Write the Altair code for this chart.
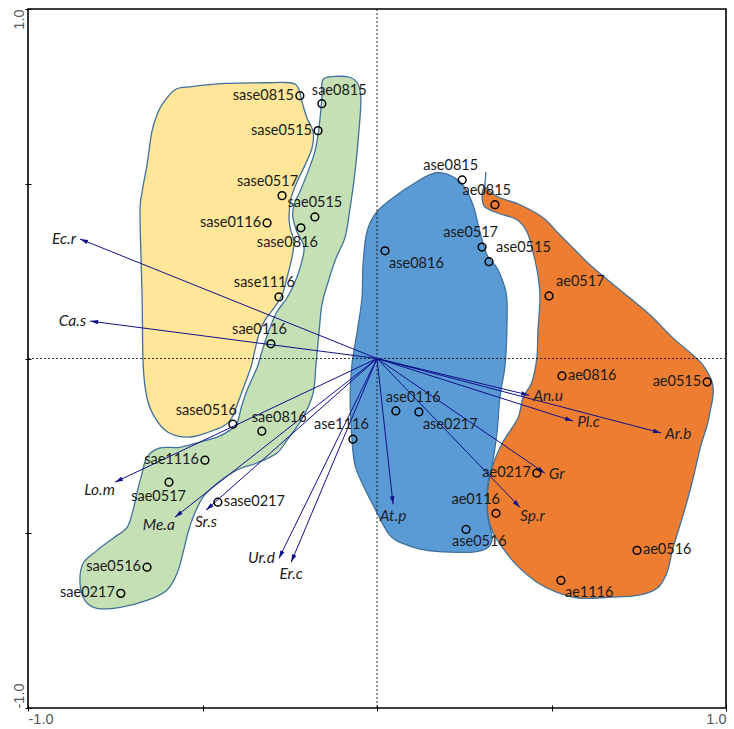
import altair as alt
import numpy as np
import pandas as pd

# ---- sample scores on ordination axes 1 and 2 -------------------------------
sample_names = [
    "sase0815", "sase0515", "sase0517", "sase0116", "sase0816", "sase1116", "sase0516", "sase0217",
    "sae0815", "sae0515", "sae0116", "sae0816", "sae1116", "sae0517", "sae0516", "sae0217",
    "ase0815", "ase0816", "ase0517", "ase0515", "ase0116", "ase0217", "ase1116", "ase0516",
    "ae0815", "ae0517", "ae0816", "ae0515", "ae0217", "ae0116", "ae0516", "ae1116",
]
sample_ax1 = [
    -0.221, -0.169, -0.272, -0.315, -0.218, -0.281, -0.413, -0.456,
    -0.158, -0.178, -0.304, -0.330, -0.493, -0.596, -0.659, -0.734,
    0.244, 0.023, 0.301, 0.321, 0.054, 0.120, -0.069, 0.255,
    0.338, 0.493, 0.530, 0.946, 0.458, 0.341, 0.745, 0.527,
]
sample_ax2 = [
    0.752, 0.652, 0.466, 0.388, 0.374, 0.176, -0.188, -0.411,
    0.729, 0.405, 0.042, -0.208, -0.291, -0.354, -0.597, -0.672,
    0.511, 0.308, 0.319, 0.277, -0.150, -0.153, -0.231, -0.489,
    0.440, 0.179, -0.050, -0.067, -0.328, -0.443, -0.549, -0.635,
]
# where each sample name sits around its point
sample_label_side = [
    "W", "W", "NW", "W", "SW", "NW", "NWW", "E",
    "NE", "N", "NW", "NE", "W", "SW", "W", "W",
    "NW", "SEE", "NW", "NEE", "NE", "SEE", "NW", "SE",
    "NW", "NEE", "E", "W", "W", "NWW", "E", "SEE",
]

# ---- species vectors ------------------------------------------------------
species = ["Ec.r", "Ca.s", "Lo.m", "Me.a", "Sr.s", "Ur.d", "Er.c",
           "At.p", "Sp.r", "Gr", "Ar.b", "Pl.c", "An.u"]
species_ax1 = [-0.851, -0.822, -0.751, -0.579, -0.490, -0.281, -0.246,
               0.046, 0.410, 0.481, 0.814, 0.562, 0.436]
species_ax2 = [0.342, 0.107, -0.354, -0.454, -0.434, -0.572, -0.583,
               -0.417, -0.426, -0.328, -0.213, -0.179, -0.105]
species_label_side = ["W", "W", "SW", "SW", "S", "W", "S",
                      "S", "SE", "E", "E", "E", "E"]

# ---- group envelopes (outline vertices, axis units) ---------------------------
hull_sase_x = [-0.616, -0.579, -0.530, -0.436, -0.321, -0.249, -0.226, -0.215, -0.201, -0.183,
               -0.186, -0.206, -0.229, -0.246, -0.252, -0.249, -0.238, -0.244, -0.258, -0.272,
               -0.295, -0.321, -0.338, -0.350, -0.361, -0.381, -0.398, -0.415, -0.436, -0.484,
               -0.542, -0.599, -0.636, -0.659, -0.670, -0.673, -0.679, -0.673, -0.659, -0.645,
               -0.630]
hull_sase_y = [0.726, 0.769, 0.778, 0.787, 0.789, 0.789, 0.775, 0.735, 0.689, 0.649,
               0.603, 0.554, 0.506, 0.460, 0.411, 0.374, 0.334, 0.288, 0.231, 0.182,
               0.145, 0.110, 0.070, 0.024, -0.024, -0.079, -0.125, -0.168, -0.191, -0.211,
               -0.225, -0.211, -0.170, -0.113, -0.019, 0.173, 0.411, 0.477, 0.554, 0.649,
               0.698]

hull_sae_x = [-0.155, -0.120, -0.077, -0.054, -0.046, -0.052, -0.063, -0.080, -0.092, -0.117,
              -0.140, -0.158, -0.166, -0.175, -0.183, -0.212, -0.258, -0.287, -0.344, -0.401,
              -0.458, -0.499, -0.527, -0.542, -0.556, -0.573, -0.602, -0.659, -0.736, -0.802,
              -0.837, -0.851, -0.842, -0.802, -0.756, -0.716, -0.699, -0.688, -0.673, -0.659,
              -0.622, -0.564, -0.507, -0.458, -0.421, -0.401, -0.387, -0.370, -0.344, -0.330,
              -0.309, -0.287, -0.258, -0.235, -0.218, -0.209, -0.229, -0.241, -0.238, -0.221,
              -0.198, -0.178, -0.169, -0.163, -0.158]
hull_sae_y = [0.798, 0.807, 0.804, 0.784, 0.741, 0.649, 0.534, 0.411, 0.345, 0.288,
              0.219, 0.153, 0.076, -0.019, -0.099, -0.168, -0.234, -0.271, -0.299, -0.319,
              -0.357, -0.397, -0.454, -0.500, -0.557, -0.615, -0.663, -0.692, -0.712, -0.715,
              -0.692, -0.643, -0.586, -0.549, -0.514, -0.483, -0.434, -0.385, -0.328, -0.282,
              -0.256, -0.254, -0.239, -0.225, -0.205, -0.185, -0.133, -0.085, -0.027, 0.019,
              0.082, 0.133, 0.173, 0.219, 0.268, 0.319, 0.362, 0.403, 0.440, 0.477,
              0.534, 0.592, 0.640, 0.689, 0.746]

hull_ase_x = [0.181, 0.218, 0.246, 0.275, 0.295, 0.315, 0.344, 0.361, 0.372, 0.372,
              0.367, 0.352, 0.344, 0.330, 0.318, 0.315, 0.318, 0.330, 0.315, 0.275,
              0.209, 0.143, 0.086, 0.037, -0.011, -0.040, -0.063, -0.072, -0.077, -0.072,
              -0.057, -0.043, -0.040, -0.029, 0.000, 0.057, 0.115, 0.152]
hull_ase_y = [0.532, 0.520, 0.497, 0.440, 0.362, 0.297, 0.259, 0.219, 0.173, 0.076,
              -0.019, -0.113, -0.211, -0.305, -0.354, -0.400, -0.457, -0.514, -0.543, -0.554,
              -0.554, -0.549, -0.534, -0.506, -0.420, -0.362, -0.305, -0.228, -0.113, -0.019,
              0.076, 0.173, 0.268, 0.362, 0.420, 0.468, 0.506, 0.526]

hull_ae_x = [0.301, 0.309, 0.344, 0.401, 0.430, 0.447, 0.461, 0.467, 0.461, 0.458,
             0.444, 0.418, 0.404, 0.361, 0.332, 0.318, 0.318, 0.332, 0.361, 0.401,
             0.458, 0.516, 0.582, 0.668, 0.745, 0.802, 0.831, 0.848, 0.877, 0.903,
             0.926, 0.946, 0.954, 0.963, 0.960, 0.934, 0.905, 0.848, 0.782, 0.725,
             0.668, 0.610, 0.553, 0.516, 0.476, 0.410, 0.352, 0.324, 0.307]
hull_ae_y = [0.463, 0.434, 0.417, 0.397, 0.362, 0.305, 0.239, 0.173, 0.076, 0.001,
             -0.067, -0.113, -0.170, -0.239, -0.305, -0.371, -0.448, -0.497, -0.543, -0.592,
             -0.640, -0.669, -0.686, -0.683, -0.678, -0.658, -0.612, -0.543, -0.448, -0.354,
             -0.256, -0.191, -0.153, -0.105, -0.067, -0.019, 0.010, 0.059, 0.125, 0.173,
             0.219, 0.268, 0.325, 0.362, 0.403, 0.440, 0.460, 0.477, 0.490]
# short stray stroke at the top of the orange envelope
tail_ae_x = [0.312, 0.307]
tail_ae_y = [0.534, 0.468]

hull_fill = {"sase": "#FFE699", "sae": "#C5E0B4", "ase": "#5B9BD5", "ae": "#ED7D31"}
hull_data = {
    "sase": (hull_sase_x, hull_sase_y),
    "sae": (hull_sae_x, hull_sae_y),
    "ase": (hull_ase_x, hull_ase_y),
    "ae": (hull_ae_x, hull_ae_y),
}

OUTLINE = "#41719C"
ARROW = "#10108A"
TEXT_FONT = "Lato"
DOMAIN = [-1, 1]

xs = alt.Scale(domain=DOMAIN, nice=False, zero=False)
ys = alt.Scale(domain=DOMAIN, nice=False, zero=False)

tick_expr = "datum.value == -1 ? '-1.0' : (datum.value == 1 ? '1.0' : '')"
flush_align = {"condition": {"test": "datum.value < 0", "value": "left"}, "value": "right"}

x_axis = alt.Axis(values=[-1, -0.5, 0, 0.5, 1], title=None, grid=False, domain=False,
                  offset=-3, tickSize=6, tickColor="black", tickWidth=1,
                  labelExpr=tick_expr, labelAlign=flush_align, labelOverlap=False,
                  labelPadding=1, labelFont="Liberation Sans", labelFontSize=14.5,
                  labelColor="#555555")
y_axis = alt.Axis(values=[-1, -0.5, 0, 0.5, 1], title=None, grid=False, domain=False,
                  offset=-3, tickSize=6, tickColor="black", tickWidth=1,
                  labelExpr=tick_expr, labelAlign=flush_align, labelOverlap=False,
                  labelAngle=270, labelBaseline="alphabetic", labelPadding=2,
                  labelFont="Liberation Sans", labelFontSize=14.5, labelColor="#555555")

X = lambda f: alt.X(f, type="quantitative", scale=xs, axis=x_axis)
Y = lambda f: alt.Y(f, type="quantitative", scale=ys, axis=y_axis)

layers = []

# filled envelopes
for grp, (hx, hy) in hull_data.items():
    df = pd.DataFrame({"x": hx, "y": hy, "i": range(len(hx))})
    layers.append(
        alt.Chart(df).mark_line(interpolate="cardinal-closed", fill=hull_fill[grp],
                                stroke=OUTLINE, strokeWidth=1.3)
        .encode(x=X("x"), y=Y("y"), order=alt.Order("i:Q"))
    )
layers.append(
    alt.Chart(pd.DataFrame({"x": [tail_ae_x[0]], "y": [tail_ae_y[0]],
                            "x2": [tail_ae_x[1]], "y2": [tail_ae_y[1]]}))
    .mark_rule(color=OUTLINE, strokeWidth=1.3)
    .encode(x=X("x"), y=Y("y"), x2="x2:Q", y2="y2:Q")
)

# dotted zero lines
layers.append(alt.Chart(pd.DataFrame({"x": [0]})).mark_rule(
    color="black", strokeWidth=0.8, strokeDash=[2, 2]).encode(x=X("x")))
layers.append(alt.Chart(pd.DataFrame({"y": [0]})).mark_rule(
    color="black", strokeWidth=0.8, strokeDash=[2, 2]).encode(y=Y("y")))

# species arrows
sp = pd.DataFrame({"name": species, "x": species_ax1, "y": species_ax2,
                   "side": species_label_side})
sp["x0"] = 0.0
sp["y0"] = 0.0
sp["ang"] = np.degrees(np.arctan2(sp["x"], sp["y"])) % 360
layers.append(alt.Chart(sp).mark_rule(color=ARROW, strokeWidth=1)
              .encode(x=X("x0"), y=Y("y0"), x2="x:Q", y2="y:Q"))
layers.append(alt.Chart(sp).mark_point(shape="M0,0 L0.55,2 L-0.55,2 Z", size=64,
                                       filled=True, color=ARROW, opacity=1)
              .encode(x=X("x"), y=Y("y"), angle=alt.Angle("ang:Q", scale=None)))

sp_pos = {"W": ("right", -4, 0), "E": ("left", 4, 1), "S": ("center", 0, 12),
          "SW": ("right", 0, 8), "SE": ("left", 0, 9)}
for side, (al, dx, dy) in sp_pos.items():
    sub = sp[sp["side"] == side]
    if len(sub) == 0:
        continue
    layers.append(alt.Chart(sub).mark_text(align=al, baseline="middle", dx=dx, dy=dy,
                                           font=TEXT_FONT, fontStyle="italic", fontSize=15.5,
                                           color="#222222")
                  .encode(x=X("x"), y=Y("y"), text="name:N"))

# sample points and names
pts = pd.DataFrame({"name": sample_names, "x": sample_ax1, "y": sample_ax2,
                    "side": sample_label_side})
layers.append(alt.Chart(pts).mark_point(shape="circle", size=60, filled=False,
                                        stroke="black", strokeWidth=1.5, opacity=1)
              .encode(x=X("x"), y=Y("y")))

pt_pos = {
    "W": ("right", -6, 0), "E": ("left", 6, 0), "N": ("center", 0, -14),
    "NW": ("right", 16, -14), "NE": ("left", -10, -13), "NEE": ("left", 7, -14),
    "NWW": ("right", 4, -13), "SW": ("right", 17, 15), "SE": ("left", -14, 13),
    "SEE": ("left", 4, 13),
}
for side, (al, dx, dy) in pt_pos.items():
    sub = pts[pts["side"] == side]
    if len(sub) == 0:
        continue
    layers.append(alt.Chart(sub).mark_text(align=al, baseline="middle", dx=dx, dy=dy,
                                           font=TEXT_FONT, fontSize=14.5, color="#1a1a1a")
                  .encode(x=X("x"), y=Y("y"), text="name:N"))

chart = (
    alt.layer(*layers)
    .properties(width=698, height=699, autosize=alt.AutoSizeParams(type="none"),
                padding={"left": 28, "top": 9, "right": 8, "bottom": 21},
                background="white")
    .configure_view(stroke="black", strokeWidth=1.6)
)

chart.save("out.html", embed_options={"renderer": "svg", "actions": False})
